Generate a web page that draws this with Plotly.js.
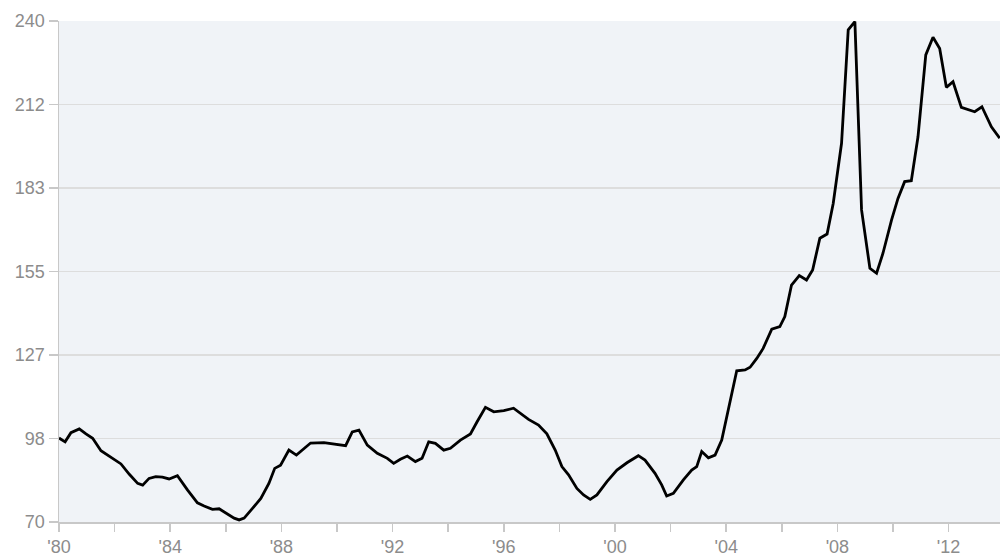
<!DOCTYPE html>
<html>
<head>
<meta charset="utf-8">
<script src="https://cdn.plot.ly/plotly-3.0.1.min.js"></script>
<style>
  html, body { margin: 0; padding: 0; background: #ffffff; }
  #chart { width: 1000px; height: 556px; }
</style>
</head>
<body>
<div id="chart"></div>
<script>
// Years (decimal)
var years = [
  1980.00, 1980.22, 1980.43, 1980.73, 1980.97, 1981.21, 1981.51, 1981.81,
  1982.23, 1982.53, 1982.83, 1983.01, 1983.24, 1983.48, 1983.72, 1983.96,
  1984.26, 1984.62, 1984.98, 1985.22, 1985.52, 1985.76, 1986.06, 1986.30,
  1986.48, 1986.66, 1986.96, 1987.26, 1987.55, 1987.76, 1987.97, 1988.27,
  1988.54, 1988.81, 1989.05, 1989.53, 1989.89, 1990.31, 1990.55, 1990.79,
  1991.09, 1991.45, 1991.81, 1992.04, 1992.28, 1992.53, 1992.82, 1993.06,
  1993.30, 1993.54, 1993.84, 1994.08, 1994.44, 1994.80, 1995.04, 1995.34,
  1995.64, 1996.00, 1996.35, 1996.66, 1996.89, 1997.25, 1997.55, 1997.85,
  1998.09, 1998.33, 1998.63, 1998.87, 1999.11, 1999.35, 1999.71, 2000.07,
  2000.43, 2000.84, 2001.08, 2001.44, 2001.68, 2001.86, 2002.10, 2002.46,
  2002.76, 2002.94, 2003.12, 2003.36, 2003.60, 2003.84, 2004.08, 2004.38,
  2004.68, 2004.86, 2005.10, 2005.33, 2005.64, 2005.93, 2006.11, 2006.35,
  2006.63, 2006.89, 2007.11, 2007.37, 2007.63, 2007.85, 2008.15, 2008.39,
  2008.63, 2008.87, 2009.17, 2009.41, 2009.64, 2009.95, 2010.18, 2010.42,
  2010.66, 2010.90, 2011.18, 2011.44, 2011.68, 2011.92, 2012.16, 2012.46,
  2012.94, 2013.20, 2013.54, 2013.84
];

// Index values
var values = [
  98.5, 97.2, 100.3, 101.6, 99.9, 98.4, 94.2, 92.2,
  89.7, 86.2, 83.1, 82.5, 84.8, 85.4, 85.2, 84.6,
  85.7, 80.9, 76.5, 75.4, 74.3, 74.5, 72.7, 71.3,
  70.7, 71.3, 74.6, 78.0, 83.1, 88.2, 89.3, 94.4,
  92.7, 95.0, 96.8, 96.9, 96.5, 95.9, 100.6, 101.2,
  96.1, 93.3, 91.6, 89.9, 91.3, 92.4, 90.5, 91.6,
  97.2, 96.7, 94.4, 95.0, 97.8, 99.9, 104.0, 108.9,
  107.4, 107.8, 108.6, 106.3, 104.8, 102.9, 99.9, 94.4,
  88.8, 86.0, 81.4, 79.2, 77.7, 79.2, 83.7, 87.6,
  90.1, 92.5, 91.0, 86.5, 82.6, 78.8, 79.7, 84.3,
  87.6, 88.8, 93.9, 91.8, 92.7, 97.8, 108.0, 121.3,
  121.6, 122.5, 125.5, 128.9, 135.4, 136.3, 139.7, 150.4,
  153.6, 152.1, 155.5, 166.3, 167.7, 178.1, 198.5, 237.0,
  239.8, 175.9, 156.1, 154.4, 161.2, 172.5, 179.8, 185.5,
  185.8, 200.7, 228.5, 234.5, 230.7, 217.5, 219.4, 210.7,
  209.2, 210.9, 204.1, 200.2
];

// Tick labels
var xTickVals = [1980, 1982, 1984, 1986, 1988, 1990, 1992, 1994, 1996, 1998, 2000, 2002, 2004, 2006, 2008, 2010, 2012];
var xTickText = ["'80", "", "'84", "", "'88", "", "'92", "", "'96", "", "'00", "", "'04", "", "'08", "", "'12"];
var yTickVals = [70, 98.333, 126.667, 155, 183.333, 211.667, 240];
var yTickText = ["70", "98", "127", "155", "183", "212", "240"];

var trace = {
  x: years,
  y: values,
  type: 'scatter',
  mode: 'lines',
  line: { color: '#000000', width: 2.8 },
  hoverinfo: 'x+y'
};

var layout = {
  width: 1000,
  height: 556,
  margin: { l: 59, r: 0, t: 21, b: 34, pad: 0 },
  paper_bgcolor: '#ffffff',
  plot_bgcolor: '#f0f3f7',
  showlegend: false,
  font: { family: 'Liberation Sans, Arial, sans-serif', size: 18, color: '#8c8c8c' },
  xaxis: {
    range: [1980, 2013.85],
    tickmode: 'array',
    tickvals: xTickVals,
    ticktext: xTickText,
    showgrid: false,
    zeroline: false,
    showline: true,
    linecolor: '#c8c8c8',
    linewidth: 1.5,
    ticks: 'outside',
    ticklen: 8,
    tickwidth: 1.5,
    tickcolor: '#c8c8c8',
    tickfont: { size: 18, color: '#8c8c8c' }
  },
  yaxis: {
    range: [70, 240],
    tickmode: 'array',
    tickvals: yTickVals,
    ticktext: yTickText,
    showgrid: true,
    gridcolor: '#dddddd',
    gridwidth: 1.2,
    zeroline: false,
    showline: true,
    linecolor: '#c8c8c8',
    linewidth: 1.5,
    ticks: 'outside',
    ticklen: 9,
    tickwidth: 1.5,
    tickcolor: '#c8c8c8',
    tickfont: { size: 18, color: '#8c8c8c' }
  }
};

Plotly.newPlot('chart', [trace], layout, { displayModeBar: false, staticPlot: true });
</script>
</body>
</html>
